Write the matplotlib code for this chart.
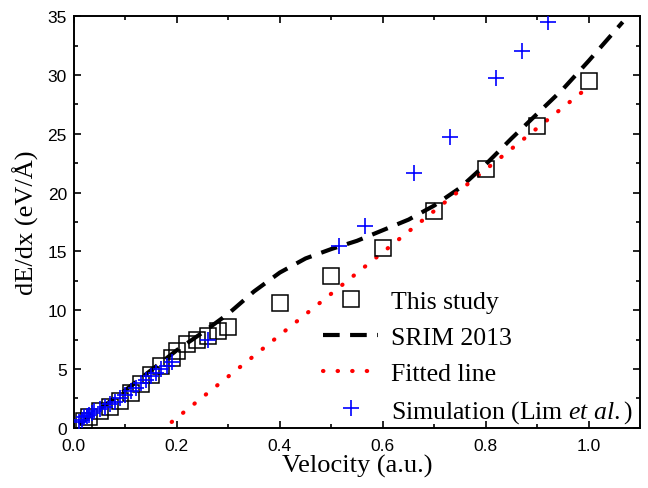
import matplotlib
matplotlib.use("Agg")
import matplotlib.pyplot as plt
from matplotlib.ticker import MultipleLocator

plt.rcParams["mathtext.fontset"] = "custom"
plt.rcParams["mathtext.rm"] = "Liberation Serif"
plt.rcParams["mathtext.it"] = "Liberation Serif:italic"

# This study (open squares)
study_v = [0.02, 0.03, 0.05, 0.07, 0.09, 0.11, 0.13, 0.15, 0.17, 0.19, 0.2, 0.22,
           0.24, 0.26, 0.28, 0.3, 0.4, 0.5, 0.6, 0.7, 0.8, 0.9, 1.0]
study_e = [0.6, 0.9, 1.4, 1.8, 2.3, 3.0, 3.7, 4.5, 5.3, 5.9, 6.5, 7.1,
           7.5, 7.8, 8.2, 8.6, 10.6, 12.9, 15.3, 18.4, 22.0, 25.7, 29.5]

# SRIM 2013
srim_v = [0.01, 0.05, 0.1, 0.15, 0.2, 0.25, 0.3, 0.35, 0.4, 0.45, 0.5, 0.55, 0.6,
          0.65, 0.7, 0.75, 0.8, 0.85, 0.9, 0.95, 1.0, 1.066]
srim_e = [0.3, 1.6, 3.2, 4.9, 6.6, 8.1, 9.7, 11.6, 13.2, 14.4, 15.2, 15.9, 16.8,
          17.7, 18.9, 20.4, 22.4, 24.6, 26.7, 28.8, 31.2, 34.5]

# fitted line
fit_v = [0.19, 1.0]
fit_e = [0.5, 29.0]

# Simulation (Lim et al.)
sim_v = [0.01, 0.015, 0.02, 0.025, 0.03, 0.035, 0.04, 0.05, 0.06, 0.07, 0.08, 0.09,
         0.1, 0.11, 0.12, 0.13, 0.14, 0.15, 0.16, 0.17, 0.18, 0.19, 0.26,
         0.515, 0.565, 0.66, 0.73, 0.82, 0.87, 0.92]
sim_e = [0.5, 0.7, 0.9, 1.0, 1.1, 1.3, 1.4, 1.6, 1.8, 2.0, 2.2, 2.5,
         2.8, 3.1, 3.4, 3.8, 4.1, 4.4, 4.7, 5.0, 5.3, 5.6, 7.5,
         15.5, 17.2, 21.7, 24.7, 29.7, 32.0, 34.5]

fig = plt.figure(figsize=(6.48, 4.89), dpi=100)
ax = fig.add_axes([0.114, 0.123, 0.874, 0.842])

ax.plot(study_v, study_e, "s", mfc="none", mec="black", ms=11, mew=1.1,
        label="This study", zorder=3)
ax.plot(srim_v, srim_e, color="black", lw=3, dashes=(4, 2.5),
        label="SRIM 2013", zorder=2)
ax.plot(fit_v, fit_e, color="red", lw=3, linestyle=(0, (0.1, 3.4)),
        dash_capstyle="round", label="Fitted line", zorder=2)
ax.plot(sim_v, sim_e, "+", color="blue", ms=11, mew=1.2,
        label=r"Simulation (Lim $\mathit{et\ al.}$)", zorder=4)

ax.set_xlim(0, 1.1)
ax.set_ylim(0, 35)
ax.xaxis.set_major_locator(MultipleLocator(0.2))
ax.xaxis.set_minor_locator(MultipleLocator(0.1))
ax.yaxis.set_major_locator(MultipleLocator(5))
ax.yaxis.set_minor_locator(MultipleLocator(2.5))
ax.tick_params(which="both", direction="in", top=True, right=True, width=1.2)
ax.tick_params(which="major", length=5)
ax.tick_params(which="minor", length=3)
for lab in ax.get_xticklabels() + ax.get_yticklabels():
    lab.set_fontfamily("Liberation Sans")
    lab.set_fontsize(12.5)
ax.tick_params(axis="x", pad=7)
ax.tick_params(axis="y", pad=5)
for s in ax.spines.values():
    s.set_linewidth(1.4)

ax.set_xlabel("Velocity (a.u.)", family="Liberation Serif", fontsize=19, labelpad=1)
ax.set_ylabel("dE/dx (eV/Å)", family="Liberation Serif", fontsize=19, labelpad=6)

leg = ax.legend(loc="lower right", bbox_to_anchor=(1.014, -0.03), frameon=False,
                prop={"family": "Liberation Serif", "size": 18.5},
                handlelength=2.15, handletextpad=0.5, labelspacing=0.5,
                borderaxespad=0.2)

fig.savefig("out.png", dpi=100)
